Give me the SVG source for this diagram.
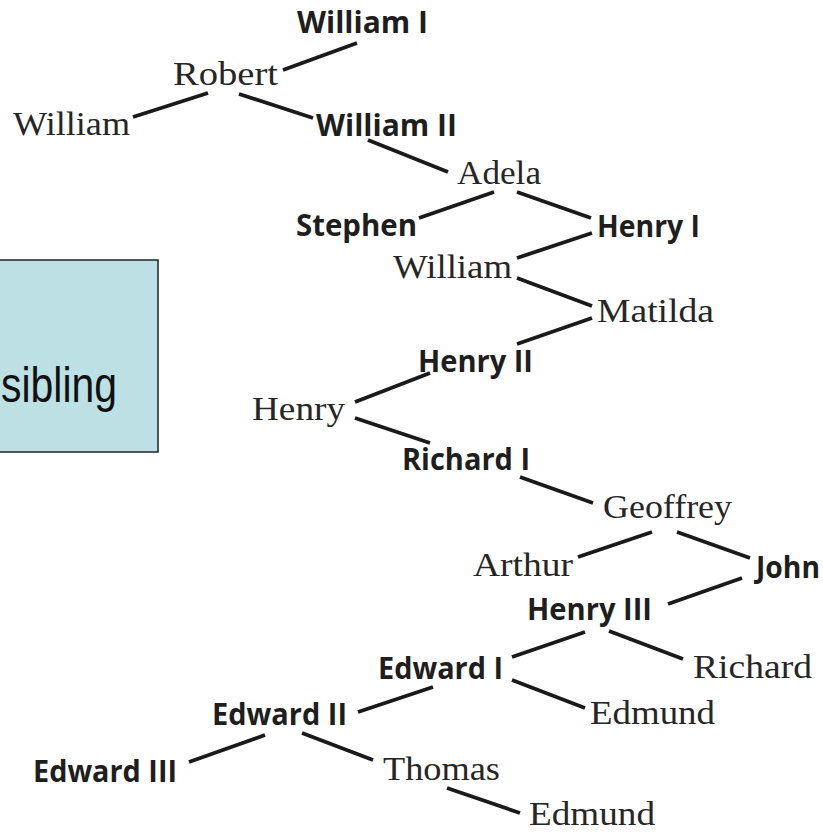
<svg xmlns="http://www.w3.org/2000/svg" width="823" height="833" viewBox="0 0 823 833">
  <style>
    .bold { font-family: "Open Sans", "Liberation Sans", sans-serif; font-weight: 700; font-size: 30px; fill: #1e1e1e; }
    .serif { font-family: "Liberation Serif", "DejaVu Serif", serif; font-size: 34px; fill: #262626; }
    .link { stroke: #1a1a1a; stroke-width: 3.8; fill: none; stroke-linecap: butt; }
    .note { fill: #bce0e4; stroke: #222; stroke-width: 1.5; }
    .note-text { font-family: "Liberation Sans", Arial, sans-serif; font-size: 50px; fill: #111; }
  </style>

  <rect width="823" height="833" fill="#ffffff"/>

  <!-- callout box, partly off the left edge -->
  <g id="callout">
    <rect class="note" x="-4" y="260" width="162" height="192"/>
    <text class="note-text" x="1" y="402" textLength="116" lengthAdjust="spacingAndGlyphs">sibling</text>
  </g>

  <!-- family links -->
  <g id="connectors">
    <line class="link" x1="283" y1="70" x2="357" y2="43"/>
    <line class="link" x1="133" y1="117" x2="208" y2="93"/>
    <line class="link" x1="239" y1="94" x2="313" y2="118"/>
    <line class="link" x1="368" y1="140" x2="448" y2="172"/>
    <line class="link" x1="419" y1="218" x2="494" y2="192"/>
    <line class="link" x1="517" y1="192" x2="591" y2="218"/>
    <line class="link" x1="517" y1="258" x2="592" y2="233"/>
    <line class="link" x1="517" y1="278" x2="592" y2="306"/>
    <line class="link" x1="517" y1="344" x2="592" y2="318"/>
    <line class="link" x1="355" y1="402" x2="430" y2="373"/>
    <line class="link" x1="355" y1="418" x2="430" y2="443"/>
    <line class="link" x1="520" y1="477" x2="593" y2="503"/>
    <line class="link" x1="578" y1="557" x2="652" y2="532"/>
    <line class="link" x1="677" y1="532" x2="750" y2="558"/>
    <line class="link" x1="668" y1="604" x2="742" y2="578"/>
    <line class="link" x1="512" y1="657" x2="585" y2="632"/>
    <line class="link" x1="609" y1="631" x2="683" y2="659"/>
    <line class="link" x1="512" y1="680" x2="585" y2="708"/>
    <line class="link" x1="358" y1="712" x2="433" y2="687"/>
    <line class="link" x1="189" y1="762" x2="265" y2="735"/>
    <line class="link" x1="302" y1="733" x2="373" y2="760"/>
    <line class="link" x1="447" y1="788" x2="520" y2="813"/>
  </g>

  <!-- monarchs (bold) -->
  <g id="william-i"><text class="bold" x="297" y="33" textLength="131" lengthAdjust="spacingAndGlyphs">William I</text></g>
  <g id="william-ii"><text class="bold" x="316" y="136" textLength="141" lengthAdjust="spacingAndGlyphs">William II</text></g>
  <g id="stephen"><text class="bold" x="296" y="236" textLength="121" lengthAdjust="spacingAndGlyphs">Stephen</text></g>
  <g id="henry-i"><text class="bold" x="597" y="237" textLength="103" lengthAdjust="spacingAndGlyphs">Henry I</text></g>
  <g id="henry-ii"><text class="bold" x="418" y="372" textLength="115" lengthAdjust="spacingAndGlyphs">Henry II</text></g>
  <g id="richard-i"><text class="bold" x="402" y="470" textLength="128" lengthAdjust="spacingAndGlyphs">Richard I</text></g>
  <g id="john"><text class="bold" x="756" y="578" textLength="64" lengthAdjust="spacingAndGlyphs">John</text></g>
  <g id="henry-iii"><text class="bold" x="527" y="620" textLength="125" lengthAdjust="spacingAndGlyphs">Henry III</text></g>
  <g id="edward-i"><text class="bold" x="378" y="679" textLength="125" lengthAdjust="spacingAndGlyphs">Edward I</text></g>
  <g id="edward-ii"><text class="bold" x="212" y="725" textLength="135" lengthAdjust="spacingAndGlyphs">Edward II</text></g>
  <g id="edward-iii"><text class="bold" x="33" y="782" textLength="144" lengthAdjust="spacingAndGlyphs">Edward III</text></g>

  <!-- other family members (serif) -->
  <g id="robert"><text class="serif" x="173" y="85" textLength="105" lengthAdjust="spacingAndGlyphs">Robert</text></g>
  <g id="william-a"><text class="serif" x="13" y="135" textLength="117" lengthAdjust="spacingAndGlyphs">William</text></g>
  <g id="adela"><text class="serif" x="457" y="184" textLength="84" lengthAdjust="spacingAndGlyphs">Adela</text></g>
  <g id="william-b"><text class="serif" x="393" y="278" textLength="119" lengthAdjust="spacingAndGlyphs">William</text></g>
  <g id="matilda"><text class="serif" x="597" y="322" textLength="117" lengthAdjust="spacingAndGlyphs">Matilda</text></g>
  <g id="henry"><text class="serif" x="252" y="420" textLength="93" lengthAdjust="spacingAndGlyphs">Henry</text></g>
  <g id="geoffrey"><text class="serif" x="603" y="518" textLength="129" lengthAdjust="spacingAndGlyphs">Geoffrey</text></g>
  <g id="arthur"><text class="serif" x="473" y="576" textLength="100" lengthAdjust="spacingAndGlyphs">Arthur</text></g>
  <g id="richard"><text class="serif" x="693" y="678" textLength="119" lengthAdjust="spacingAndGlyphs">Richard</text></g>
  <g id="edmund-a"><text class="serif" x="590" y="724" textLength="125" lengthAdjust="spacingAndGlyphs">Edmund</text></g>
  <g id="thomas"><text class="serif" x="383" y="780" textLength="117" lengthAdjust="spacingAndGlyphs">Thomas</text></g>
  <g id="edmund-b"><text class="serif" x="529" y="825" font-size="32" textLength="126" lengthAdjust="spacingAndGlyphs">Edmund</text></g>
</svg>
